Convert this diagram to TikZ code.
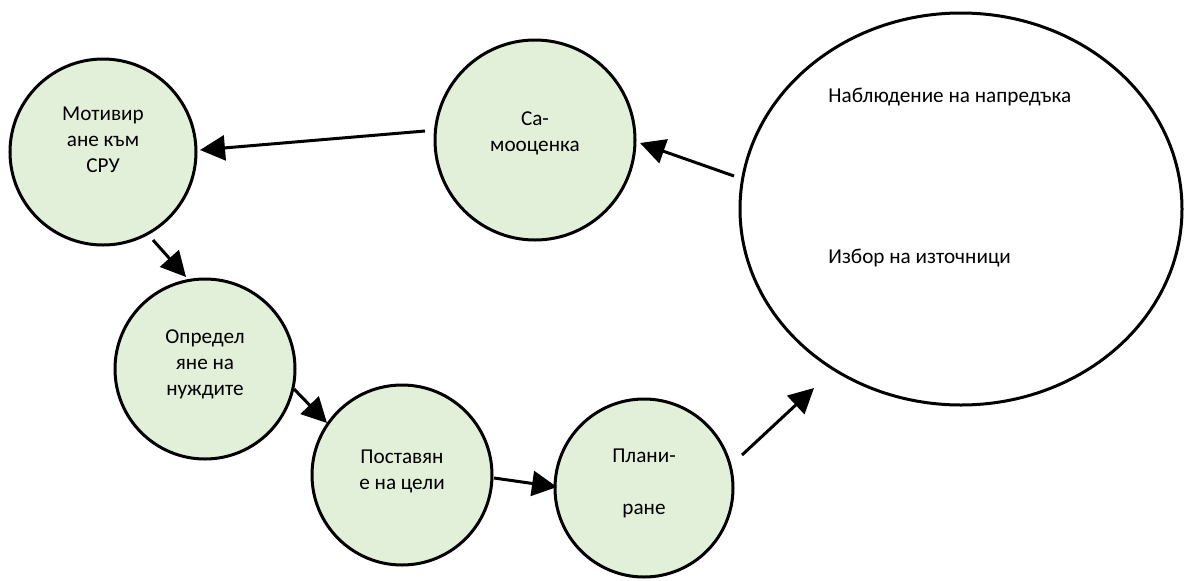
\documentclass[tikz,border=0pt]{standalone}
\usepackage{fontspec}
\setmainfont{Carlito}
\usetikzlibrary{shapes.geometric,arrows.meta,calc}
\definecolor{stagefill}{HTML}{E2EFD9}
\tikzset{
  stage/.style={circle, draw=black, line width=1.5pt, fill=stagefill, inner sep=0pt},
  stagetext/.style={align=center, font=\fontsize{10.6}{13}\selectfont, inner sep=0pt},
  notetext/.style={anchor=west, font=\fontsize{10.6}{13}\selectfont, inner sep=0pt},
  arr/.style={line width=1.5pt, -{Triangle[length=12.5pt,width=12.5pt]}}
}
\begin{document}
\begin{tikzpicture}[x=0.5pt,y=-0.5pt]
\useasboundingbox (0,0) rectangle (1184,580);

% cycle stages
\node[stage, minimum size=93pt]  (mot)  at (103,152) {};
\node[stage, minimum size=100pt] (self) at (535,140) {};
\node[stage, minimum size=90pt]  (need) at (205,369) {};
\node[stage, minimum size=90pt]  (goal) at (402,475) {};
\node[stage, minimum size=89pt]  (plan) at (644,488) {};
\node[ellipse, draw=black, line width=1.5pt, fill=white,
      minimum width=221pt, minimum height=196pt] (src) at (961,209) {};

% stage labels
\node[stagetext] at ($(mot)+(0,-12)$)  {Мотивир\\ане към\\СРУ};
\node[stagetext] at ($(self)+(0,-7)$)  {Са-\\мооценка};
\node[stagetext] at ($(need)+(0,-5)$)  {Определ\\яне на\\нуждите};
\node[stagetext] at ($(goal)+(0,-4)$)  {Поставян\\е на цели};
\node[stagetext] at ($(plan)+(0,-5)$)  {Плани-\\[13pt]ране};
\node[notetext] at ($(src)+(-133,-112)$) {Наблюдение на напредъка};
\node[notetext] at ($(src)+(-133,49)$)   {Избор на източници};

% connectors
\draw[arr] ($(self)+(-110,-9)$) -- ($(mot)+(97,-2)$);
\draw[arr] ($(src)+(-227,-33)$) -- ($(self)+(105,3)$);
\draw[arr] ($(mot)+(50,88)$)    -- ($(need)+(-19,-92)$);
\draw[arr] ($(need)+(89,20)$)   -- ($(goal)+(-75,-52)$);
\draw[arr] ($(goal)+(92,3)$)    -- ($(plan)+(-87,-1)$);
\draw[arr] ($(plan)+(98,-33)$)  -- ($(src)+(-147,179)$);
\end{tikzpicture}
\end{document}
